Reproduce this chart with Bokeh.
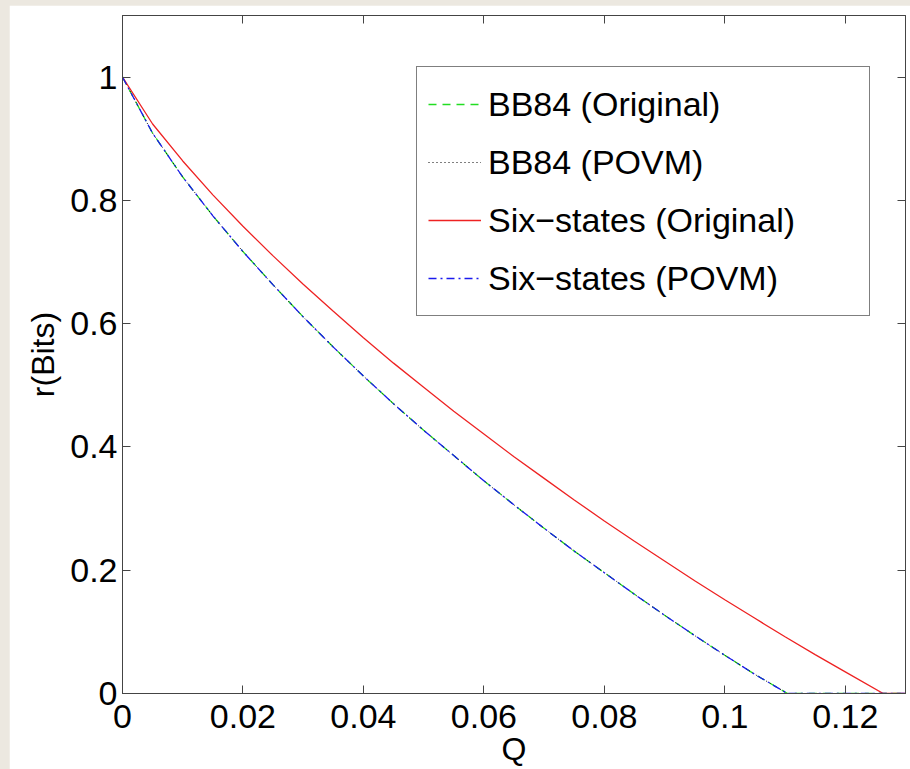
from bokeh.plotting import figure
from bokeh.layouts import column
from bokeh.models import LinearAxis, FixedTicker, CustomJSTickFormatter, Range1d
from bokeh.embed import file_html
from bokeh.resources import INLINE

# ---- data ----
q = [0.0, 0.005, 0.01, 0.015, 0.02, 0.025, 0.03, 0.035, 0.04, 0.045, 0.05,
     0.055, 0.06, 0.065, 0.07, 0.075, 0.08, 0.085, 0.09, 0.095, 0.1, 0.105,
     0.1104, 0.115, 0.12, 0.125, 0.13]
bb84_original = [1.0, 0.909, 0.838, 0.775, 0.717, 0.663, 0.611, 0.562, 0.515, 0.470, 0.427,
                 0.386, 0.345, 0.306, 0.268, 0.231, 0.196, 0.161, 0.127, 0.094, 0.062, 0.031,
                 0.0, 0.0, 0.0, 0.0, 0.0]
bb84_povm = [1.0, 0.909, 0.838, 0.775, 0.717, 0.663, 0.611, 0.562, 0.515, 0.470, 0.427,
             0.386, 0.345, 0.306, 0.268, 0.231, 0.196, 0.161, 0.127, 0.094, 0.062, 0.031,
             0.0, 0.0, 0.0, 0.0, 0.0]
six_povm = [1.0, 0.909, 0.838, 0.775, 0.717, 0.663, 0.611, 0.562, 0.515, 0.470, 0.427,
            0.386, 0.345, 0.306, 0.268, 0.231, 0.196, 0.161, 0.127, 0.094, 0.062, 0.031,
            0.0, 0.0, 0.0, 0.0, 0.0]
q_six = [0.0, 0.005, 0.01, 0.015, 0.02, 0.025, 0.03, 0.035, 0.04, 0.045, 0.05,
         0.055, 0.06, 0.065, 0.07, 0.075, 0.08, 0.085, 0.09, 0.095, 0.1, 0.105,
         0.11, 0.115, 0.12, 0.1263, 0.13]
six_original = [1.0, 0.924, 0.864, 0.809, 0.758, 0.710, 0.664, 0.620, 0.577, 0.536, 0.497,
                0.458, 0.421, 0.384, 0.349, 0.314, 0.280, 0.247, 0.215, 0.183, 0.152, 0.122,
                0.092, 0.063, 0.035, 0.0, 0.0]
x_ticks = [0, 0.02, 0.04, 0.06, 0.08, 0.1, 0.12]
y_ticks = [0, 0.2, 0.4, 0.6, 0.8, 1.0]

FONT = "Liberation Sans"
AX = "#444444"

p = figure(width=901, height=764, output_backend="svg", toolbar_location=None,
           x_range=Range1d(0, 0.13), y_range=Range1d(0, 1.1),
           min_border_left=113, min_border_right=5, min_border_top=10, min_border_bottom=75,
           background_fill_color="white", border_fill_color="white")
p.grid.visible = False
p.outline_line_color = AX

fmt = CustomJSTickFormatter(code="return String(Math.round(tick*1000)/1000);")
blank = CustomJSTickFormatter(code="return '';")

for ax, ticks in ((p.xaxis[0], x_ticks), (p.yaxis[0], y_ticks)):
    ax.ticker = FixedTicker(ticks=ticks)
    ax.formatter = fmt
    ax.major_tick_in = 8
    ax.major_tick_out = 0
    ax.minor_tick_line_color = None
    ax.axis_line_color = AX
    ax.major_tick_line_color = AX
    ax.major_label_text_font = FONT
    ax.major_label_text_font_size = "34px"
    ax.major_label_text_color = "black"
    ax.axis_label_text_font = FONT
    ax.axis_label_text_font_size = "32px"
    ax.axis_label_text_font_style = "normal"
    ax.axis_label_text_color = "black"

p.xaxis[0].axis_label = "Q"
p.xaxis[0].major_label_standoff = 11
p.xaxis[0].axis_label_standoff = 0
p.yaxis[0].axis_label = "r(Bits)"
p.yaxis[0].major_label_standoff = 5
p.yaxis[0].axis_label_standoff = 6

for loc, ticks in (("above", x_ticks), ("right", y_ticks)):
    a = LinearAxis(ticker=FixedTicker(ticks=ticks), formatter=blank,
                   major_tick_in=8, major_tick_out=0, minor_tick_line_color=None,
                   axis_line_color=AX, major_tick_line_color=AX,
                   major_label_standoff=0, major_label_text_font_size="1px")
    p.add_layout(a, loc)

p.line(q, bb84_original, line_color="#22dd22", line_width=1.3, line_dash="8 6",
       legend_label="BB84 (Original)")
p.line(q, bb84_povm, line_color="black", line_width=1, line_dash="1 3",
       legend_label="BB84 (POVM)")
p.line(q_six, six_original, line_color="#ee2222", line_width=1.3,
       legend_label="Six\u2212states (Original)")
p.line(q, six_povm, line_color="#1a1aee", line_width=1.3, line_dash="8 4 2 4",
       legend_label="Six\u2212states (POVM)")

lg = p.legend[0]
lg.location = (294, 377)
lg.border_line_color = "black"
lg.border_line_width = 1
lg.background_fill_color = "white"
lg.background_fill_alpha = 1
lg.label_text_font = FONT
lg.label_text_font_size = "34px"
lg.label_text_color = "black"
lg.padding = 11
lg.spacing = 6
lg.glyph_width = 53
lg.glyph_height = 52
lg.label_height = 52
lg.label_standoff = 7
lg.label_width = 370
lg.margin = 0

page = column(p, styles={"background-color": "#ece8e0",
                         "padding-left": "9px", "padding-top": "5px"})

open("out.html", "w").write(file_html(page, INLINE))
